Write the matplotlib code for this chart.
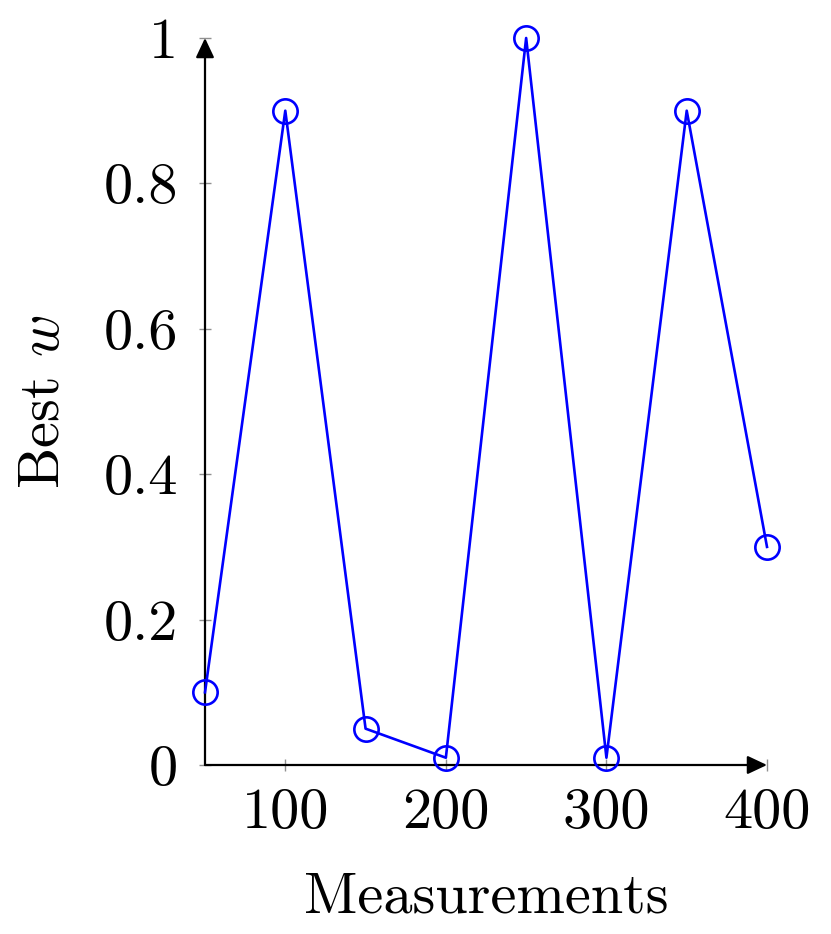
import matplotlib
matplotlib.use('Agg')
import matplotlib.pyplot as plt

measurements = [50, 100, 150, 200, 250, 300, 350, 400]
best_w = [0.1, 0.9, 0.05, 0.01, 1.0, 0.01, 0.9, 0.3]

x_ticks = [100, 200, 300, 400]
y_ticks = [0, 0.2, 0.4, 0.6, 0.8, 1]
y_tick_labels = ['0', '0.2', '0.4', '0.6', '0.8', '1']

plt.rcParams['font.family'] = ['cmr10', 'DejaVu Sans']
plt.rcParams['mathtext.fontset'] = 'cm'
plt.rcParams['axes.unicode_minus'] = False

fig = plt.figure(figsize=(8.31, 9.34), dpi=100)
ax = fig.add_axes([205 / 831, 169 / 934, 562 / 831, 727 / 934])

ax.plot(measurements, best_w, color='#0000ff', lw=1.9, marker='o', ms=17.5,
        mfc='none', mec='#0000ff', mew=1.9, clip_on=False, zorder=5)

ax.set_xlim(50, 400)
ax.set_ylim(0, 1)
ax.set_xticks(x_ticks)
ax.set_xticklabels([str(t) for t in x_ticks])
ax.set_yticks(y_ticks)
ax.set_yticklabels(y_tick_labels)

for s in ax.spines.values():
    s.set_visible(False)
ax.tick_params(direction='inout', length=9, width=1.0, color='#909090',
               labelsize=42, pad=12)
ax.tick_params(axis='y', pad=15)

# axis lines with arrow heads
arrow = dict(arrowstyle='-|>,head_length=0.85,head_width=0.4', color='black',
             lw=1.6, mutation_scale=14, shrinkA=0, shrinkB=0)
ax.annotate('', xy=(1, 0), xytext=(0, 0), xycoords='axes fraction',
            arrowprops=arrow, zorder=3)
ax.annotate('', xy=(0, 1), xytext=(0, 0), xycoords='axes fraction',
            arrowprops=arrow, zorder=3)

ax.set_xlabel('Measurements', fontsize=42, labelpad=24)
ax.set_ylabel('Best $w$', fontsize=42, labelpad=24)

fig.savefig('out.png', dpi=100)
